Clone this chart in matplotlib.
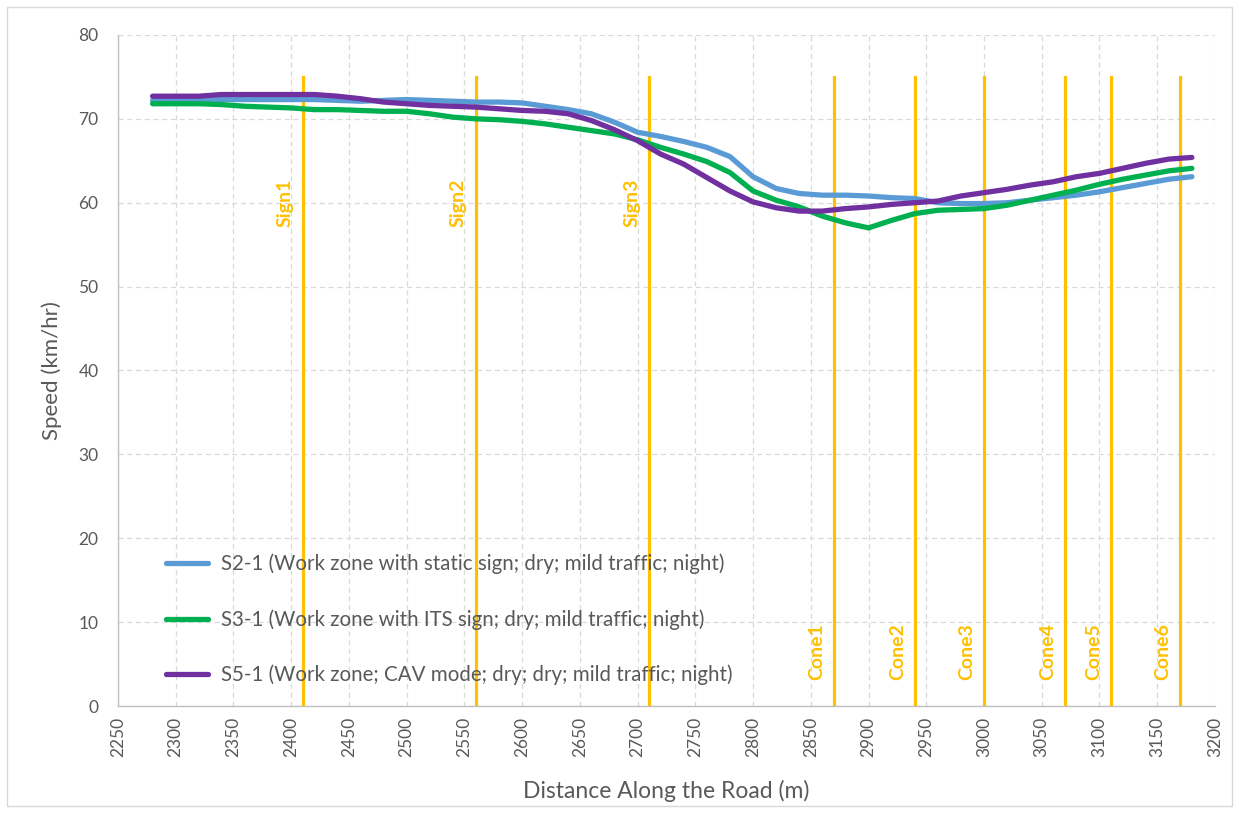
import matplotlib
matplotlib.use("Agg")
import matplotlib.pyplot as plt
from matplotlib.patches import Rectangle

plt.rcParams['font.family'] = ['Lato', 'DejaVu Sans']

distance = list(range(2280, 3181, 20))

s2_1 = [72.2, 72.2, 72.2, 72.3, 72.3, 72.3, 72.3, 72.3, 72.2, 72.1,
        72.2, 72.3, 72.2, 72.1, 72.0, 72.0, 71.9, 71.5, 71.1, 70.6,
        69.6, 68.4, 67.9, 67.3, 66.6, 65.5, 63.1, 61.7, 61.1, 60.9,
        60.9, 60.8, 60.6, 60.5, 60.0, 59.9, 59.9, 60.0, 60.3, 60.6,
        60.9, 61.3, 61.8, 62.3, 62.8, 63.1]

s3_1 = [71.8, 71.8, 71.8, 71.7, 71.5, 71.4, 71.3, 71.1, 71.1, 71.0,
        70.9, 70.9, 70.6, 70.2, 70.0, 69.9, 69.7, 69.4, 69.0, 68.6,
        68.2, 67.5, 66.6, 65.8, 64.9, 63.6, 61.4, 60.3, 59.5, 58.4,
        57.6, 57.0, 57.9, 58.7, 59.1, 59.2, 59.3, 59.7, 60.3, 60.9,
        61.5, 62.2, 62.8, 63.3, 63.8, 64.1]

s5_1 = [72.7, 72.7, 72.7, 72.9, 72.9, 72.9, 72.9, 72.9, 72.7, 72.4,
        72.0, 71.8, 71.6, 71.5, 71.4, 71.2, 71.0, 70.9, 70.6, 69.8,
        68.7, 67.4, 65.8, 64.6, 63.0, 61.4, 60.1, 59.4, 59.0, 59.0,
        59.3, 59.5, 59.8, 60.0, 60.2, 60.8, 61.2, 61.6, 62.1, 62.5,
        63.1, 63.5, 64.1, 64.7, 65.2, 65.4]

series_labels = [
    "S2-1 (Work zone with static sign; dry; mild traffic; night)",
    "S3-1 (Work zone with ITS sign; dry; mild traffic; night)",
    "S5-1 (Work zone; CAV mode; dry; dry; mild traffic; night)",
]
series_colors = ["#5B9BD5", "#00B050", "#7030A0"]

marker_names = ["Sign1", "Sign2", "Sign3", "Cone1", "Cone2", "Cone3", "Cone4", "Cone5", "Cone6"]
marker_pos = [2410, 2560, 2710, 2870, 2940, 3000, 3070, 3110, 3170]
marker_top = 75
sign_label_y = 60
cone_label_y = 6.5

x_ticks = list(range(2250, 3201, 50))
y_ticks = list(range(0, 81, 10))

fig = plt.figure(figsize=(12.39, 8.13), dpi=100)
ax = fig.add_axes([0.0952, 0.1316, 0.8854, 0.8254])

fig.patches.append(Rectangle((0.006, 0.008), 0.988, 0.984, transform=fig.transFigure,
                             fill=False, edgecolor="#D9D9D9", linewidth=1.0))

orange = "#FFC000"
for name, xp in zip(marker_names, marker_pos):
    ax.plot([xp, xp], [0, marker_top], color=orange, lw=2.3, zorder=2)
    ly = sign_label_y if name.startswith("Sign") else cone_label_y
    ax.annotate(name, xy=(xp, ly), xytext=(-12.5, 0), textcoords="offset points",
                rotation=90, ha="center", va="center", color=orange,
                fontsize=14, fontweight="bold", zorder=3)

for vals, lab, col in zip([s2_1, s3_1, s5_1], series_labels, series_colors):
    ax.plot(distance, vals, color=col, lw=3.8, label=lab, zorder=4,
            solid_capstyle="round", solid_joinstyle="round")

ax.set_xlim(2250, 3200)
ax.set_ylim(0, 80)
ax.set_xticks(x_ticks)
ax.set_yticks(y_ticks)
ax.tick_params(axis="x", rotation=90, labelsize=12.5, colors="#595959", length=0, pad=8)
ax.tick_params(axis="y", labelsize=12.5, colors="#595959", length=0, pad=14)
ax.grid(True, color="#D9D9D9", linestyle=(0, (4, 3)), linewidth=0.9, zorder=0)
ax.set_axisbelow(True)
for s in ["top", "right"]:
    ax.spines[s].set_visible(False)
for s in ["left", "bottom"]:
    ax.spines[s].set_color("#BFBFBF")
    ax.spines[s].set_linewidth(1.0)

ax.set_xlabel("Distance Along the Road (m)", fontsize=16.5, color="#595959", labelpad=16)
ax.set_ylabel("Speed (km/hr)", fontsize=16, color="#595959", labelpad=12)

leg = ax.legend(loc="lower left", bbox_to_anchor=(0.027, 0.003), frameon=False,
                fontsize=14.8, labelspacing=1.71, handlelength=2.05, handletextpad=0.63,
                labelcolor="#595959")

fig.savefig("out.png", dpi=100, facecolor="white")
